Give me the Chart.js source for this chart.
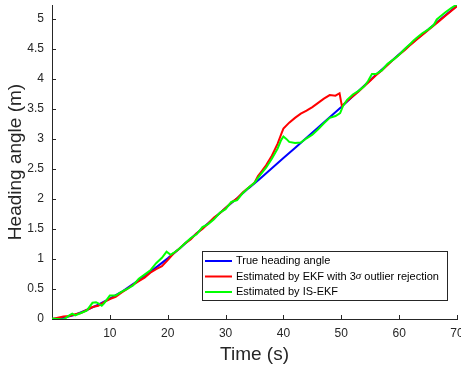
<!DOCTYPE html>
<html>
<head>
<meta charset="utf-8">
<script src="https://cdn.jsdelivr.net/npm/chart.js@4.4.0/dist/chart.umd.min.js"></script>
<style>
  html, body { margin: 0; padding: 0; background: #fff; }
  #wrap { width: 461px; height: 370px; }
</style>
</head>
<body>
<div id="wrap"><canvas id="lineChart" width="461" height="370"></canvas></div>
<script>
// true heading
var trueT = [0,2,4,6,8,10,12,14,16,18,20,22,24,26,28,30,32,34,36,38,40,42,44,46,48,50,52,54,56,58,60,62,64,66,68,70];
var trueVal = [0.00,0.02,0.07,0.15,0.24,0.34,0.45,0.58,0.71,0.86,1.01,1.17,1.34,1.51,1.68,1.85,2.01,2.18,2.34,2.51,2.68,2.85,3.02,3.19,3.36,3.53,3.71,3.89,4.07,4.24,4.41,4.58,4.74,4.90,5.06,5.22];

// EKF with 3 sigma outlier rejection
var ekfT = [0,1,2,3,4,5,6,7,8,9,10,11,12,13,14,15,16,17,18,19,20,21,22,23,24,25,26,27,28,29,30,31,32,33,34,35,35.6,36,37,38,38.5,39,39.7,40,41,42,43,44,45,46,47,48,49,49.7,50.1,51,52,53,54,55,56,57,58,59,60,61,62,63,64,65,66,67,68,69,70];
var ekfVal = [0.00,0.02,0.04,0.05,0.08,0.10,0.15,0.20,0.22,0.28,0.33,0.37,0.44,0.50,0.57,0.63,0.69,0.77,0.83,0.88,0.98,1.09,1.17,1.26,1.33,1.43,1.50,1.59,1.69,1.76,1.85,1.94,2.01,2.11,2.19,2.27,2.38,2.43,2.56,2.72,2.82,2.92,3.10,3.17,3.27,3.35,3.42,3.47,3.53,3.60,3.67,3.73,3.72,3.76,3.55,3.63,3.71,3.79,3.88,3.97,4.06,4.14,4.23,4.32,4.40,4.48,4.57,4.65,4.73,4.81,4.89,4.97,5.05,5.13,5.21];

// IS-EKF
var isT = [0,1,2,3,3.5,4,5,6,7,7.6,8,8.6,9,10,11,12,13,14,15,16,17,18,19,19.8,20.5,21,22,23,24,25,26,27,28,29,30,31,32,33,34,35,36,37,38,39,39.6,40,40.5,41,42,43,44,45,46,47,48,49,49.8,50.3,51,52,53,54,54.6,55.3,56,57,58,59,60,61,62,62.5,63,64,65,66,66.5,67,68,69,70];
var isVal = [0.01,0.00,-0.01,0.06,0.09,0.06,0.10,0.14,0.27,0.28,0.26,0.22,0.26,0.39,0.39,0.45,0.50,0.56,0.67,0.74,0.81,0.93,1.02,1.12,1.07,1.10,1.17,1.26,1.35,1.41,1.53,1.58,1.66,1.77,1.83,1.95,1.98,2.10,2.19,2.27,2.40,2.52,2.67,2.84,2.98,3.04,3.00,2.95,2.93,2.94,3.01,3.07,3.16,3.26,3.35,3.38,3.43,3.55,3.65,3.74,3.80,3.88,3.96,4.08,4.08,4.14,4.25,4.32,4.40,4.50,4.59,4.64,4.68,4.76,4.82,4.90,4.99,5.03,5.11,5.18,5.24];

var seriesNames = ['True heading angle', 'Estimated by EKF with 3\u03C3 outlier rejection', 'Estimated by IS-EKF'];
var xTicks = [10,20,30,40,50,60,70];

function toPts(xs, ys) {
  var out = [];
  for (var i = 0; i < xs.length; i++) out.push({x: xs[i], y: ys[i]});
  return out;
}

var axisColor = '#262626';

// inward tick marks, matlab style
var innerTicks = {
  id: 'innerTicks',
  afterDraw: function(chart) {
    var ctx = chart.ctx, xs = chart.scales.x, ys = chart.scales.y, ca = chart.chartArea;
    ctx.save();
    ctx.strokeStyle = axisColor;
    ctx.lineWidth = 1;
    ctx.beginPath();
    xTicks.forEach(function(v) {
      var px = Math.round(xs.getPixelForValue(v)) + 0.5;
      ctx.moveTo(px, ca.bottom);
      ctx.lineTo(px, ca.bottom - 4);
    });
    ys.ticks.forEach(function(t) {
      var py = Math.round(ys.getPixelForValue(t.value)) + 0.5;
      ctx.moveTo(ca.left, py);
      ctx.lineTo(ca.left + 4, py);
    });
    ctx.stroke();
    ctx.restore();
  }
};

// boxed legend inside the plot
var boxLegend = {
  id: 'boxLegend',
  afterDraw: function(chart) {
    var ctx = chart.ctx, ca = chart.chartArea;
    var bx = ca.right - 255, by = ca.bottom - 68, bw = 245, bh = 49;
    ctx.save();
    ctx.fillStyle = '#fff';
    ctx.fillRect(bx, by, bw, bh);
    ctx.strokeStyle = axisColor;
    ctx.lineWidth = 1;
    ctx.strokeRect(bx + 0.5, by + 0.5, bw, bh);
    ctx.textBaseline = 'middle';
    ctx.fillStyle = '#000';
    for (var i = 0; i < 3; i++) {
      var ds = chart.data.datasets[i];
      var yy = by + 10 + i * 15.5;
      ctx.strokeStyle = ds.borderColor;
      ctx.lineWidth = 2;
      ctx.beginPath();
      ctx.moveTo(bx + 3, yy);
      ctx.lineTo(bx + 30, yy);
      ctx.stroke();
      var tx = bx + 34;
      ctx.font = '11px "Liberation Sans", Arial, sans-serif';
      if (i === 1) {
        var a = 'Estimated by EKF with 3';
        ctx.fillText(a, tx, yy);
        tx += ctx.measureText(a).width;
        ctx.font = 'italic 11px "Liberation Serif", serif';
        ctx.fillText('\u03C3', tx, yy);
        tx += ctx.measureText('\u03C3').width;
        ctx.font = '11px "Liberation Sans", Arial, sans-serif';
        ctx.fillText(' outlier rejection', tx, yy);
      } else {
        ctx.fillText(ds.label, tx, yy);
      }
    }
    ctx.restore();
  }
};

var lineData = {
  datasets: [
    { label: seriesNames[0], data: toPts(trueT, trueVal), borderColor: '#0000FF', order: 3 },
    { label: seriesNames[1], data: toPts(ekfT, ekfVal), borderColor: '#FF0000', order: 2 },
    { label: seriesNames[2], data: toPts(isT, isVal), borderColor: '#00FF00', order: 1 }
  ]
};

var lineOptions = {
  responsive: false,
  animation: false,
  layout: { padding: { top: 5, right: 4, left: 0, bottom: 0 } },
  elements: {
    point: { radius: 0 },
    line: { borderWidth: 2, tension: 0, fill: false }
  },
  plugins: { legend: { display: false }, tooltip: { enabled: false } },
  scales: {
    x: {
      type: 'linear', min: 0, max: 70,
      grid: { drawOnChartArea: false, drawTicks: false },
      border: { display: true, color: axisColor, width: 1 },
      ticks: {
        stepSize: 10, padding: 7, color: axisColor, maxRotation: 0,
        font: { family: '"Liberation Sans", Arial, sans-serif', size: 12 },
        callback: function(v) { return v === 0 ? '' : v; }
      },
      title: {
        display: true, text: 'Time (s)', color: '#262626',
        font: { family: '"Liberation Sans", Arial, sans-serif', size: 19 },
        padding: { top: 0, bottom: 4 }
      },
      afterFit: function(s) { s.height = 51; s.paddingLeft = 0; s.paddingRight = 0; }
    },
    y: {
      type: 'linear', min: 0, max: 5.23,
      grid: { drawOnChartArea: false, drawTicks: false },
      border: { display: true, color: axisColor, width: 1 },
      ticks: {
        stepSize: 0.5, includeBounds: false, padding: 8, color: axisColor,
        font: { family: '"Liberation Sans", Arial, sans-serif', size: 12 },
        callback: function(v) { return String(Math.round(v * 10) / 10); }
      },
      title: {
        display: true, text: 'Heading angle (m)', color: '#262626',
        font: { family: '"Liberation Sans", Arial, sans-serif', size: 19 },
        padding: { top: 4, bottom: 0 }
      },
      afterFit: function(s) { s.width = 52; s.paddingTop = 0; s.paddingBottom = 0; }
    }
  }
};

var ctx = document.getElementById('lineChart').getContext('2d');
var chart = new Chart(ctx, { type: 'line', data: lineData, options: lineOptions, plugins: [innerTicks, boxLegend] });
</script>
</body>
</html>
